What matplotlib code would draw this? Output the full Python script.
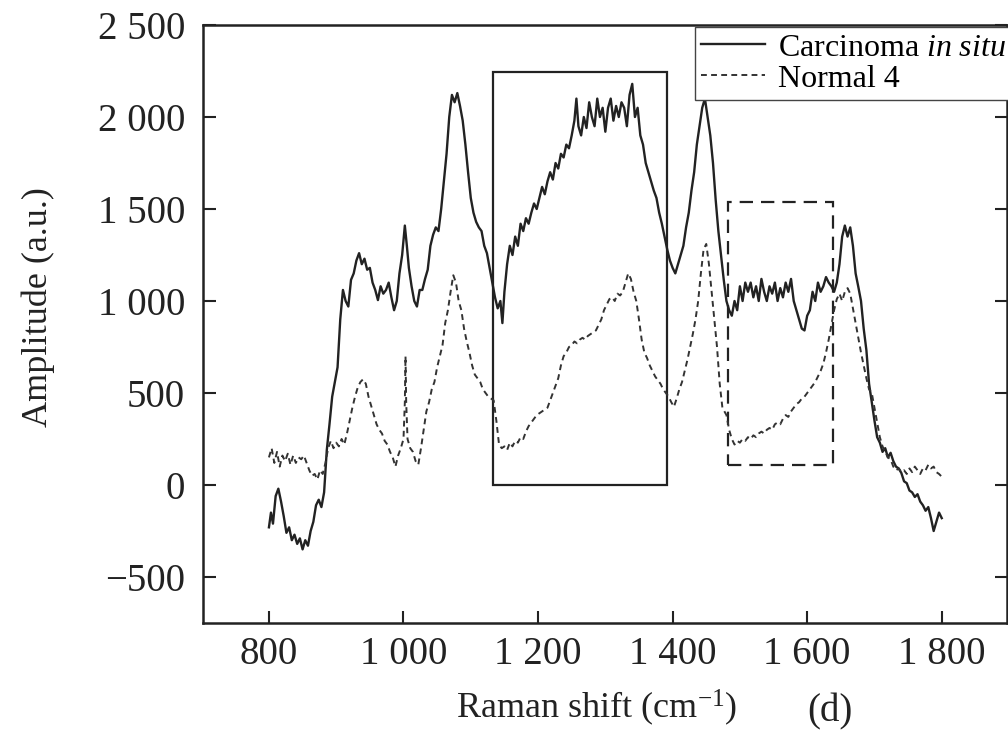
import matplotlib
matplotlib.use("Agg")
import matplotlib.pyplot as plt
from matplotlib.patches import Rectangle
from matplotlib.ticker import FuncFormatter
import numpy as np

# ---- data ----
# Carcinoma in situ (solid)
ca_x = [800, 803, 806, 810, 814, 818, 822, 826, 830, 834, 838, 842, 846, 850, 854, 858,
        862, 866, 870, 874, 878, 882, 886, 890, 894, 898, 902, 906, 910, 914, 918, 922,
        926, 930, 934, 938, 942, 946, 950, 954, 958, 962, 966, 970, 974, 978, 982, 986,
        990, 994, 998, 1002, 1005, 1008, 1012, 1016, 1020, 1024, 1028, 1032, 1036, 1040,
        1044, 1048, 1052, 1056, 1060, 1064, 1068, 1072, 1076, 1080, 1084, 1088, 1092, 1096,
        1100, 1104, 1108, 1112, 1116, 1120, 1124, 1128, 1132, 1136, 1140, 1144, 1147, 1150,
        1154, 1158, 1162, 1166, 1170, 1174, 1178, 1182, 1186, 1190, 1194, 1198, 1202, 1206,
        1210, 1214, 1218, 1222, 1226, 1230, 1234, 1238, 1242, 1246, 1250, 1254, 1257, 1260,
        1264, 1268, 1272, 1276, 1280, 1284, 1288, 1292, 1296, 1300, 1304, 1308, 1312, 1316,
        1320, 1324, 1328, 1332, 1336, 1340, 1344, 1348, 1352, 1356, 1360, 1364, 1368, 1372,
        1376, 1380, 1384, 1388, 1392, 1396, 1400, 1404, 1408, 1412, 1416, 1420, 1424, 1428,
        1432, 1436, 1440, 1444, 1448, 1452, 1456, 1460, 1464, 1468, 1472, 1476, 1480, 1484,
        1488, 1492, 1496, 1500, 1504, 1508, 1512, 1516, 1520, 1524, 1528, 1532, 1536, 1540,
        1544, 1548, 1552, 1556, 1560, 1564, 1568, 1572, 1576, 1580, 1584, 1588, 1592, 1596,
        1600, 1604, 1608, 1612, 1616, 1620, 1624, 1628, 1632, 1636, 1640, 1644, 1648, 1652,
        1656, 1660, 1664, 1668, 1672, 1676, 1680, 1684, 1688, 1692, 1696, 1700, 1704, 1708,
        1712, 1716, 1720, 1724, 1728, 1732, 1736, 1740, 1744, 1748, 1752, 1756, 1760, 1764,
        1768, 1772, 1776, 1780, 1784, 1788, 1792, 1796, 1800]
ca_y = [-230, -150, -210, -60, -20, -90, -170, -260, -230, -300, -270, -320, -290, -350, -300, -330,
        -250, -200, -110, -80, -120, -40, 190, 330, 480, 560, 640, 900, 1060, 1000, 970, 1115,
        1150, 1220, 1260, 1200, 1230, 1170, 1180, 1100, 1060, 1005, 1080, 1040, 1060, 1100, 1020, 950,
        1000, 1150, 1250, 1410, 1300, 1180, 1080, 1000, 970, 1060, 1060, 1120, 1170, 1300,
        1360, 1400, 1380, 1500, 1650, 1800, 2000, 2120, 2080, 2130, 2060, 1980, 1850, 1700,
        1560, 1480, 1430, 1400, 1380, 1300, 1260, 1180, 1100, 1020, 960, 1000, 880, 1050,
        1200, 1300, 1250, 1350, 1300, 1420, 1380, 1450, 1420, 1480, 1530, 1500, 1560, 1620,
        1580, 1650, 1700, 1660, 1750, 1720, 1800, 1780, 1850, 1830, 1900, 1980, 2100, 1950,
        1900, 2000, 1940, 2080, 2000, 1950, 2100, 2000, 2050, 1920, 2050, 2100, 1980, 2060,
        2000, 2080, 2050, 1950, 2120, 2180, 2000, 2050, 1900, 1850, 1750, 1700, 1650, 1600,
        1560, 1480, 1420, 1350, 1280, 1220, 1180, 1150, 1200, 1250, 1300, 1400, 1480, 1600,
        1700, 1850, 1950, 2050, 2100, 2000, 1900, 1750, 1550, 1380, 1250, 1115, 1000, 950,
        920, 1000, 950, 1080, 1000, 1100, 1050, 1100, 1020, 1080, 1000, 1120, 1050, 1000,
        1080, 1040, 1100, 1000, 1070, 1020, 1100, 1050, 1120, 1000, 950, 900, 850, 840,
        920, 950, 1050, 1000, 1100, 1050, 1080, 1130, 1100, 1080, 1050, 1100, 1200, 1350,
        1410, 1350, 1400, 1300, 1150, 1077, 1000, 850, 733, 550, 450, 350, 260, 230,
        180, 200, 150, 175, 130, 100, 90, 65, 20, 10, -30, -40, -65, -50,
        -90, -110, -140, -120, -180, -250, -200, -150, -180]

# Normal 4 (dashed)
no_x = [800, 804, 808, 812, 816, 820, 824, 828, 832, 836, 840, 844, 848, 852, 856, 860,
        864, 868, 872, 876, 880, 884, 888, 892, 896, 900, 904, 908, 912, 916, 920, 924,
        928, 932, 936, 940, 944, 948, 952, 956, 960, 964, 968, 972, 976, 980, 984, 988,
        992, 996, 1000, 1002, 1003, 1004, 1006, 1010, 1014, 1018, 1022, 1026, 1030, 1034,
        1038, 1042, 1046, 1050, 1054, 1058, 1062, 1066, 1070, 1074, 1078, 1082, 1086, 1090,
        1094, 1098, 1102, 1106, 1110, 1114, 1118, 1122, 1126, 1130, 1134, 1138, 1142, 1146,
        1150, 1154, 1158, 1162, 1166, 1170, 1174, 1178, 1182, 1186, 1190, 1194, 1198, 1202,
        1206, 1210, 1214, 1218, 1222, 1226, 1230, 1234, 1238, 1242, 1246, 1250, 1254, 1258,
        1262, 1266, 1270, 1274, 1278, 1282, 1286, 1290, 1294, 1298, 1302, 1306, 1310, 1314,
        1318, 1322, 1326, 1330, 1334, 1338, 1342, 1346, 1350, 1354, 1358, 1362, 1366, 1370,
        1374, 1378, 1382, 1386, 1390, 1394, 1398, 1402, 1406, 1410, 1414, 1418, 1422, 1426,
        1430, 1434, 1438, 1442, 1446, 1450, 1454, 1458, 1462, 1466, 1470, 1474, 1480, 1484,
        1488, 1492, 1496, 1500, 1504, 1508, 1512, 1516, 1520, 1524, 1528, 1532, 1536, 1540,
        1544, 1548, 1552, 1556, 1560, 1564, 1568, 1572, 1576, 1580, 1584, 1588, 1592, 1596,
        1600, 1604, 1608, 1612, 1616, 1620, 1624, 1628, 1632, 1636, 1640, 1644, 1648, 1652,
        1656, 1660, 1664, 1668, 1672, 1676, 1680, 1684, 1688, 1692, 1696, 1700, 1704, 1708,
        1712, 1716, 1720, 1724, 1728, 1732, 1736, 1740, 1744, 1748, 1752, 1756, 1760, 1764,
        1768, 1772, 1776, 1780, 1784, 1788, 1792, 1796, 1800]
no_y = [150, 200, 120, 180, 100, 160, 130, 170, 110, 160, 120, 150, 140, 160, 120, 80,
        50, 60, 30, 80, 60, 120, 200, 240, 200, 230, 210, 250, 220, 280, 350, 420,
        480, 530, 560, 575, 550, 480, 430, 380, 330, 300, 280, 240, 220, 180, 150, 100,
        160, 200, 250, 450, 700, 450, 250, 200, 180, 130, 110, 200, 300, 400,
        450, 520, 560, 640, 700, 760, 880, 950, 1050, 1140, 1100, 1000, 950, 850,
        780, 720, 650, 600, 580, 560, 520, 500, 480, 470, 460, 350, 220, 200,
        210, 190, 230, 210, 240, 230, 260, 250, 290, 320, 340, 360, 380, 390,
        400, 410, 420, 460, 500, 540, 580, 650, 700, 720, 750, 760, 780, 770,
        790, 800, 790, 810, 820, 830, 840, 870, 900, 950, 980, 1010, 1020, 1000,
        1040, 1030, 1050, 1100, 1150, 1120, 1050, 1000, 900, 790, 720, 690, 650, 620,
        590, 570, 550, 520, 500, 480, 450, 425, 470, 520, 560, 620, 680, 750,
        820, 900, 1000, 1150, 1280, 1310, 1200, 1050, 900, 750, 550, 420, 380, 300,
        250, 220, 240, 230, 250, 240, 260, 250, 270, 260, 280, 290, 280, 300,
        310, 300, 330, 340, 330, 360, 380, 370, 400, 420, 440, 450, 470, 480,
        500, 520, 540, 560, 590, 620, 660, 720, 790, 870, 950, 1010, 1040, 1000,
        1050, 1070, 1040, 960, 880, 800, 720, 650, 580, 520, 500, 420, 340, 260,
        210, 180, 150, 140, 100, 80, 90, 70, 80, 60, 90, 70, 100, 80,
        60, 90, 80, 110, 90, 100, 70, 60, 45]

ca_label = "Carcinoma $\\it{in\\ situ}$"
no_label = "Normal 4"

# highlighted regions: (x0, x1, y0, y1)
box_solid = (1133, 1391, 0, 2245)
box_dashed = (1483, 1638, 110, 1540)

x_ticks = [800, 1000, 1200, 1400, 1600, 1800]
y_ticks = [-500, 0, 500, 1000, 1500, 2000, 2500]

# ---- plot ----
plt.rcParams['font.family'] = ['Liberation Serif', 'DejaVu Serif']
plt.rcParams['mathtext.fontset'] = 'custom'
plt.rcParams['mathtext.rm'] = 'Liberation Serif'
plt.rcParams['mathtext.it'] = 'Liberation Serif:italic'

fig = plt.figure(figsize=(10.08, 7.31), dpi=100)
ax = fig.add_axes([203/1008, 1 - 623/731, (1007-203)/1008, (623-25)/731])

ink = '#222222'
ax.plot(ca_x, ca_y, color=ink, lw=1.7, label=ca_label)
ax.plot(no_x, no_y, color='#333333', lw=1.4, linestyle=(0, (3, 2.2)), label=no_label)

ax.add_patch(Rectangle((box_solid[0], box_solid[2]), box_solid[1]-box_solid[0],
                       box_solid[3]-box_solid[2], fill=False, ec=ink, lw=1.6))
ax.add_patch(Rectangle((box_dashed[0], box_dashed[2]), box_dashed[1]-box_dashed[0],
                       box_dashed[3]-box_dashed[2], fill=False, ec=ink, lw=1.6,
                       linestyle=(0, (6, 3.6))))

ax.set_xlim(702, 1897)
ax.set_ylim(-750, 2500)
ax.set_xticks(x_ticks)
ax.set_yticks(y_ticks)


def thousands(v, pos):
    s = f"{abs(int(v)):,}".replace(",", " ")
    return ("\u2212" + s) if v < 0 else s


ax.xaxis.set_major_formatter(FuncFormatter(thousands))
ax.yaxis.set_major_formatter(FuncFormatter(thousands))
ax.tick_params(direction='in', length=9, width=1.5, labelsize=28,
               right=True, colors=ink)
ax.tick_params(axis='x', pad=9)
ax.tick_params(axis='y', pad=13)
for sp in ax.spines.values():
    sp.set_linewidth(1.8)
    sp.set_color(ink)

leg = ax.legend(loc='upper left', bbox_to_anchor=(0.612, 0.997), borderaxespad=0,
                fontsize=23, handlelength=2.0, handletextpad=0.4, labelspacing=0.05,
                borderpad=0.2, fancybox=False, framealpha=1)
leg.get_frame().set_edgecolor('#444444')
leg.get_frame().set_linewidth(1.0)

fig.text(38/1008, 1 - 307/731, "Amplitude (a.u.)", rotation=90, fontsize=26,
         ha='center', va='center', color=ink)
fig.text(597/1008, 1 - 708/731, "Raman shift (cm$^{-1}$)", fontsize=26,
         ha='center', va='center', color=ink)
fig.text(830/1008, 1 - 712/731, "(d)", fontsize=28, ha='center', va='center', color=ink)

fig.savefig("out.png", dpi=100)
